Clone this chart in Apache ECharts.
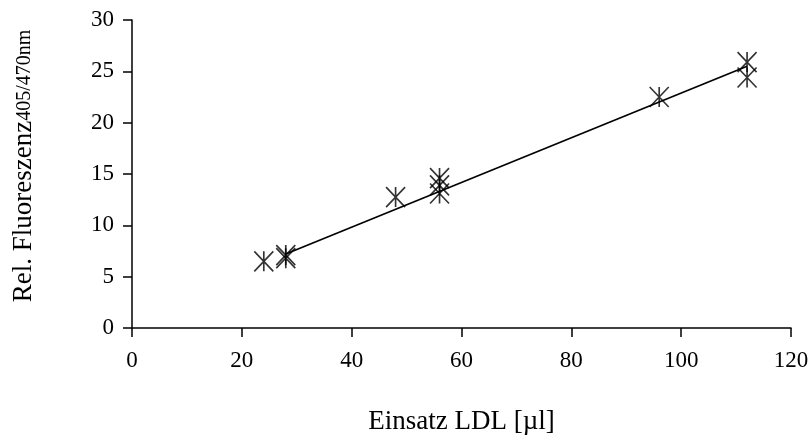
<!DOCTYPE html>
<html>
<head>
<meta charset="utf-8">
<script src="https://cdn.jsdelivr.net/npm/echarts@6/dist/echarts.min.js"></script>
<style>
html,body{margin:0;padding:0;background:#fff;}
#c{width:812px;height:442px;}
</style>
</head>
<body>
<div id="c"></div>
<script>
var xValues = [24, 28, 28, 48, 56, 56, 56, 96, 112, 112];
var yValues = [6.5, 7.1, 6.8, 12.75, 14.6, 13.9, 13.1, 22.5, 25.9, 24.4];
var trendX = [28, 112];
var trendY = [7.2, 25.5];
var xTicks = [0, 20, 40, 60, 80, 100, 120];
var yTicks = [0, 5, 10, 15, 20, 25, 30];

var points = xValues.map(function (x, i) { return [x, yValues[i]]; });
var trend = trendX.map(function (x, i) { return [x, trendY[i]]; });
var font = '"Liberation Serif", "Times New Roman", serif';

var chart = echarts.init(document.getElementById('c'), null, {renderer: 'canvas'});
chart.setOption({
  animation: false,
  backgroundColor: '#ffffff',
  grid: {left: 132, right: 21, top: 20, bottom: 114},
  xAxis: {
    type: 'value', min: xTicks[0], max: xTicks[xTicks.length - 1], interval: 20,
    splitLine: {show: false},
    axisLine: {lineStyle: {color: '#000', width: 1.5}},
    axisTick: {show: true, length: 9, lineStyle: {color: '#000', width: 1.5}},
    axisLabel: {color: '#000', fontFamily: font, fontSize: 23, margin: 21},
    name: 'Einsatz LDL [µl]',
    nameLocation: 'middle', nameGap: 80,
    nameTextStyle: {color: '#000', fontFamily: font, fontSize: 27}
  },
  yAxis: {
    type: 'value', min: yTicks[0], max: yTicks[yTicks.length - 1], interval: 5,
    splitLine: {show: false},
    axisLine: {show: true, lineStyle: {color: '#000', width: 1.5}},
    axisTick: {show: true, length: 9, lineStyle: {color: '#000', width: 1.5}},
    axisLabel: {color: '#000', fontFamily: font, fontSize: 23, margin: 18},
    name: '{a|Rel. Fluoreszenz}{b|405/470nm}',
    nameLocation: 'middle', nameGap: 95, nameRotate: 90,
    nameTextStyle: {
      color: '#000', fontFamily: font, padding: [0, 0, 0, 16],
      rich: {
        a: {fontSize: 27, fontFamily: font, color: '#000', verticalAlign: 'bottom'},
        b: {fontSize: 20, fontFamily: font, color: '#000', verticalAlign: 'bottom', padding: [0, 0, 2, 0]}
      }
    }
  },
  series: [
    {
      type: 'line', data: trend, symbol: 'none', silent: true,
      lineStyle: {color: '#000', width: 1.7}, z: 2
    },
    {
      type: 'scatter', data: points,
      symbol: 'path://M0,0L20,20M20,0L0,20M10,0L10,20',
      symbolSize: [19, 20],
      itemStyle: {color: 'rgba(0,0,0,0)', borderColor: '#000', borderWidth: 1.7},
      z: 3
    }
  ]
});
</script>
</body>
</html>
